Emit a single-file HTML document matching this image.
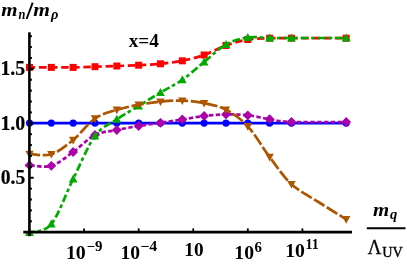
<!DOCTYPE html>
<html><head><meta charset="utf-8"><style>
html,body{margin:0;padding:0;background:#fff;}
body{width:407px;height:264px;position:relative;overflow:hidden;font-family:"Liberation Serif",serif;color:#000;}
</style></head><body>
<svg width="407" height="264" viewBox="0 0 407 264" style="position:absolute;left:0;top:0" font-family="Liberation Serif, serif">
<path d="M29.50 123.10 C33.14 123.10 44.05 123.10 51.33 123.10 C58.61 123.10 65.88 123.10 73.16 123.10 C80.44 123.10 87.71 123.10 94.99 123.10 C102.27 123.10 109.54 123.10 116.82 123.10 C124.10 123.10 131.37 123.10 138.65 123.10 C145.93 123.10 153.20 123.10 160.48 123.10 C167.76 123.10 175.03 123.10 182.31 123.10 C189.59 123.10 196.86 123.10 204.14 123.10 C211.42 123.10 218.69 123.10 225.97 123.10 C233.25 123.10 240.52 123.10 247.80 123.10 C255.08 123.10 262.35 123.10 269.63 123.10 C276.91 123.10 278.70 123.10 291.46 123.10 C304.22 123.10 337.08 123.10 346.20 123.10" fill="none" stroke="#0000ff" stroke-width="2.70"/>
<circle cx="29.50" cy="123.10" r="3.6" fill="#0000ff"/>
<circle cx="51.33" cy="123.10" r="3.6" fill="#0000ff"/>
<circle cx="73.16" cy="123.10" r="3.6" fill="#0000ff"/>
<circle cx="94.99" cy="123.10" r="3.6" fill="#0000ff"/>
<circle cx="116.82" cy="123.10" r="3.6" fill="#0000ff"/>
<circle cx="138.65" cy="123.10" r="3.6" fill="#0000ff"/>
<circle cx="160.48" cy="123.10" r="3.6" fill="#0000ff"/>
<circle cx="182.31" cy="123.10" r="3.6" fill="#0000ff"/>
<circle cx="204.14" cy="123.10" r="3.6" fill="#0000ff"/>
<circle cx="225.97" cy="123.10" r="3.6" fill="#0000ff"/>
<circle cx="247.80" cy="123.10" r="3.6" fill="#0000ff"/>
<circle cx="269.63" cy="123.10" r="3.6" fill="#0000ff"/>
<circle cx="291.46" cy="123.10" r="3.6" fill="#0000ff"/>
<circle cx="346.20" cy="123.10" r="3.6" fill="#0000ff"/>
<path d="M29.50 67.40 C33.14 67.40 44.05 67.40 51.33 67.40 C58.61 67.40 65.88 67.52 73.16 67.40 C80.44 67.28 87.71 66.93 94.99 66.70 C102.27 66.47 109.54 66.25 116.82 66.00 C124.10 65.75 131.37 65.57 138.65 65.20 C145.93 64.83 153.20 64.53 160.48 63.80 C167.76 63.07 175.03 62.27 182.31 60.80 C189.59 59.33 196.86 57.55 204.14 55.00 C211.42 52.45 218.69 48.08 225.97 45.50 C233.25 42.92 240.52 40.72 247.80 39.50 C255.08 38.28 262.35 38.42 269.63 38.20 C276.91 37.98 278.70 38.20 291.46 38.20 C304.22 38.20 337.08 38.20 346.20 38.20" fill="none" stroke="#ff0000" stroke-width="2.70" stroke-dasharray="7.4 3.7" stroke-dashoffset="1.60"/>
<rect x="26.00" y="63.90" width="7.00" height="7.00" fill="#ff0000"/>
<rect x="47.83" y="63.90" width="7.00" height="7.00" fill="#ff0000"/>
<rect x="69.66" y="63.90" width="7.00" height="7.00" fill="#ff0000"/>
<rect x="91.49" y="63.20" width="7.00" height="7.00" fill="#ff0000"/>
<rect x="113.32" y="62.50" width="7.00" height="7.00" fill="#ff0000"/>
<rect x="135.15" y="61.70" width="7.00" height="7.00" fill="#ff0000"/>
<rect x="156.98" y="60.30" width="7.00" height="7.00" fill="#ff0000"/>
<rect x="178.81" y="57.30" width="7.00" height="7.00" fill="#ff0000"/>
<rect x="200.64" y="51.50" width="7.00" height="7.00" fill="#ff0000"/>
<rect x="222.47" y="42.00" width="7.00" height="7.00" fill="#ff0000"/>
<rect x="244.30" y="36.00" width="7.00" height="7.00" fill="#ff0000"/>
<rect x="266.13" y="34.70" width="7.00" height="7.00" fill="#ff0000"/>
<rect x="287.96" y="34.70" width="7.00" height="7.00" fill="#ff0000"/>
<rect x="342.70" y="34.70" width="7.00" height="7.00" fill="#ff0000"/>
<path d="M29.50 165.30 C33.14 165.38 44.05 168.02 51.33 165.80 C58.61 163.58 65.88 157.13 73.16 152.00 C80.44 146.87 87.71 138.67 94.99 135.00 C102.27 131.33 109.54 131.50 116.82 130.00 C124.10 128.50 131.37 127.20 138.65 126.00 C145.93 124.80 153.20 123.88 160.48 122.80 C167.76 121.72 175.03 120.63 182.31 119.50 C189.59 118.37 196.86 116.85 204.14 116.00 C211.42 115.15 218.69 114.52 225.97 114.40 C233.25 114.28 240.52 114.50 247.80 115.30 C255.08 116.10 262.35 118.08 269.63 119.20 C276.91 120.32 278.70 121.53 291.46 122.00 C304.22 122.47 337.08 122.00 346.20 122.00" fill="none" stroke="#aa00aa" stroke-width="2.70" stroke-dasharray="4.4 2.4" stroke-dashoffset="5.80"/>
<path d="M29.50 160.40 L34.40 165.30 L29.50 170.20 L24.60 165.30Z" fill="#aa00aa"/>
<path d="M51.33 160.90 L56.23 165.80 L51.33 170.70 L46.43 165.80Z" fill="#aa00aa"/>
<path d="M73.16 147.10 L78.06 152.00 L73.16 156.90 L68.26 152.00Z" fill="#aa00aa"/>
<path d="M94.99 130.10 L99.89 135.00 L94.99 139.90 L90.09 135.00Z" fill="#aa00aa"/>
<path d="M116.82 125.10 L121.72 130.00 L116.82 134.90 L111.92 130.00Z" fill="#aa00aa"/>
<path d="M138.65 121.10 L143.55 126.00 L138.65 130.90 L133.75 126.00Z" fill="#aa00aa"/>
<path d="M160.48 117.90 L165.38 122.80 L160.48 127.70 L155.58 122.80Z" fill="#aa00aa"/>
<path d="M182.31 114.60 L187.21 119.50 L182.31 124.40 L177.41 119.50Z" fill="#aa00aa"/>
<path d="M204.14 111.10 L209.04 116.00 L204.14 120.90 L199.24 116.00Z" fill="#aa00aa"/>
<path d="M225.97 109.50 L230.87 114.40 L225.97 119.30 L221.07 114.40Z" fill="#aa00aa"/>
<path d="M247.80 110.40 L252.70 115.30 L247.80 120.20 L242.90 115.30Z" fill="#aa00aa"/>
<path d="M269.63 114.30 L274.53 119.20 L269.63 124.10 L264.73 119.20Z" fill="#aa00aa"/>
<path d="M291.46 117.10 L296.36 122.00 L291.46 126.90 L286.56 122.00Z" fill="#aa00aa"/>
<path d="M346.20 117.10 L351.10 122.00 L346.20 126.90 L341.30 122.00Z" fill="#aa00aa"/>
<path d="M29.50 232.40 C33.14 231.00 44.05 232.90 51.33 224.00 C58.61 215.10 65.88 193.67 73.16 179.00 C80.44 164.33 87.71 145.95 94.99 136.00 C102.27 126.05 109.54 124.30 116.82 119.30 C124.10 114.30 131.37 110.47 138.65 106.00 C145.93 101.53 153.20 96.87 160.48 92.50 C167.76 88.13 175.03 84.88 182.31 79.80 C189.59 74.72 196.86 67.88 204.14 62.00 C211.42 56.12 218.69 48.58 225.97 44.50 C233.25 40.42 240.52 38.58 247.80 37.50 C255.08 36.42 262.35 37.92 269.63 38.00 C276.91 38.08 278.70 38.00 291.46 38.00 C304.22 38.00 337.08 38.00 346.20 38.00" fill="none" stroke="#00aa00" stroke-width="2.70" stroke-dasharray="7.8 2.8 3.6 3.0" stroke-dashoffset="2.40"/>
<path d="M29.50 227.80 L33.85 235.90 L25.15 235.90Z" fill="#00aa00"/>
<path d="M51.33 219.40 L55.68 227.50 L46.98 227.50Z" fill="#00aa00"/>
<path d="M73.16 174.40 L77.51 182.50 L68.81 182.50Z" fill="#00aa00"/>
<path d="M94.99 131.40 L99.34 139.50 L90.64 139.50Z" fill="#00aa00"/>
<path d="M116.82 114.70 L121.17 122.80 L112.47 122.80Z" fill="#00aa00"/>
<path d="M138.65 101.40 L143.00 109.50 L134.30 109.50Z" fill="#00aa00"/>
<path d="M160.48 87.90 L164.83 96.00 L156.13 96.00Z" fill="#00aa00"/>
<path d="M182.31 75.20 L186.66 83.30 L177.96 83.30Z" fill="#00aa00"/>
<path d="M204.14 57.40 L208.49 65.50 L199.79 65.50Z" fill="#00aa00"/>
<path d="M225.97 39.90 L230.32 48.00 L221.62 48.00Z" fill="#00aa00"/>
<path d="M247.80 32.90 L252.15 41.00 L243.45 41.00Z" fill="#00aa00"/>
<path d="M269.63 33.40 L273.98 41.50 L265.28 41.50Z" fill="#00aa00"/>
<path d="M291.46 33.40 L295.81 41.50 L287.11 41.50Z" fill="#00aa00"/>
<path d="M346.20 33.40 L350.55 41.50 L341.85 41.50Z" fill="#00aa00"/>
<path d="M29.50 154.00 C33.14 154.03 44.05 156.53 51.33 154.20 C58.61 151.87 65.88 145.95 73.16 140.00 C80.44 134.05 87.71 123.53 94.99 118.50 C102.27 113.47 109.54 112.08 116.82 109.80 C124.10 107.52 131.37 106.15 138.65 104.80 C145.93 103.45 153.20 102.40 160.48 101.70 C167.76 101.00 175.03 100.37 182.31 100.60 C189.59 100.83 196.86 101.58 204.14 103.10 C211.42 104.62 218.69 105.83 225.97 109.70 C233.25 113.57 240.52 118.42 247.80 126.30 C255.08 134.18 262.35 147.35 269.63 157.00 C276.91 166.65 283.31 176.70 291.46 184.20 C299.60 191.70 309.38 196.15 318.50 202.00 C327.62 207.85 341.58 216.42 346.20 219.30" fill="none" stroke="#ad5600" stroke-width="2.70" stroke-dasharray="12.2 2.7" stroke-dashoffset="1.60"/>
<path d="M29.50 158.40 L33.70 150.80 L25.30 150.80Z" fill="#ad5600"/>
<path d="M51.33 158.60 L55.53 151.00 L47.13 151.00Z" fill="#ad5600"/>
<path d="M73.16 144.40 L77.36 136.80 L68.96 136.80Z" fill="#ad5600"/>
<path d="M94.99 122.90 L99.19 115.30 L90.79 115.30Z" fill="#ad5600"/>
<path d="M116.82 114.20 L121.02 106.60 L112.62 106.60Z" fill="#ad5600"/>
<path d="M138.65 109.20 L142.85 101.60 L134.45 101.60Z" fill="#ad5600"/>
<path d="M160.48 106.10 L164.68 98.50 L156.28 98.50Z" fill="#ad5600"/>
<path d="M182.31 105.00 L186.51 97.40 L178.11 97.40Z" fill="#ad5600"/>
<path d="M204.14 107.50 L208.34 99.90 L199.94 99.90Z" fill="#ad5600"/>
<path d="M225.97 114.10 L230.17 106.50 L221.77 106.50Z" fill="#ad5600"/>
<path d="M247.80 130.70 L252.00 123.10 L243.60 123.10Z" fill="#ad5600"/>
<path d="M269.63 161.40 L273.83 153.80 L265.43 153.80Z" fill="#ad5600"/>
<path d="M291.46 188.60 L295.66 181.00 L287.26 181.00Z" fill="#ad5600"/>
<path d="M346.20 223.70 L350.40 216.10 L342.00 216.10Z" fill="#ad5600"/>
<g stroke="#000" fill="none">
<line x1="29.4" y1="32.3" x2="29.4" y2="236.2" stroke-width="2.6"/>
<line x1="23.3" y1="232.1" x2="352" y2="232.1" stroke-width="2.6"/>
<line x1="29.4" y1="221.31" x2="31.90" y2="221.31" stroke-width="2.0"/>
<line x1="29.4" y1="210.42" x2="31.90" y2="210.42" stroke-width="2.0"/>
<line x1="29.4" y1="199.53" x2="31.90" y2="199.53" stroke-width="2.0"/>
<line x1="29.4" y1="188.64" x2="31.90" y2="188.64" stroke-width="2.0"/>
<line x1="29.4" y1="177.75" x2="33.70" y2="177.75" stroke-width="2.0"/>
<line x1="29.4" y1="166.86" x2="31.90" y2="166.86" stroke-width="2.0"/>
<line x1="29.4" y1="155.97" x2="31.90" y2="155.97" stroke-width="2.0"/>
<line x1="29.4" y1="145.08" x2="31.90" y2="145.08" stroke-width="2.0"/>
<line x1="29.4" y1="134.19" x2="31.90" y2="134.19" stroke-width="2.0"/>
<line x1="29.4" y1="123.30" x2="33.70" y2="123.30" stroke-width="2.0"/>
<line x1="29.4" y1="112.41" x2="31.90" y2="112.41" stroke-width="2.0"/>
<line x1="29.4" y1="101.52" x2="31.90" y2="101.52" stroke-width="2.0"/>
<line x1="29.4" y1="90.63" x2="31.90" y2="90.63" stroke-width="2.0"/>
<line x1="29.4" y1="79.74" x2="31.90" y2="79.74" stroke-width="2.0"/>
<line x1="29.4" y1="68.85" x2="33.70" y2="68.85" stroke-width="2.0"/>
<line x1="29.4" y1="57.96" x2="31.90" y2="57.96" stroke-width="2.0"/>
<line x1="29.4" y1="47.07" x2="31.90" y2="47.07" stroke-width="2.0"/>
<line x1="29.4" y1="36.18" x2="31.90" y2="36.18" stroke-width="2.0"/>
<line x1="84.10" y1="232" x2="84.10" y2="228.4" stroke-width="1.8"/>
<line x1="138.68" y1="232" x2="138.68" y2="228.4" stroke-width="1.8"/>
<line x1="193.25" y1="232" x2="193.25" y2="228.4" stroke-width="1.8"/>
<line x1="247.83" y1="232" x2="247.83" y2="228.4" stroke-width="1.8"/>
<line x1="302.40" y1="232" x2="302.40" y2="228.4" stroke-width="1.8"/>
</g>
<line x1="366.8" y1="228.3" x2="405.5" y2="228.3" stroke="#000" stroke-width="2.0"/>
</svg>
<svg width="407" height="264" viewBox="0 0 407 264" style="position:absolute;left:0;top:0;filter:grayscale(1)" font-family="Liberation Serif, serif">
<text x="1.30" y="16.20" font-size="19.00" textLength="16.30" lengthAdjust="spacingAndGlyphs" font-weight="bold" font-style="italic">m</text>
<text x="18.40" y="19.30" font-size="14.20" textLength="6.90" lengthAdjust="spacingAndGlyphs" font-weight="bold" font-style="italic">n</text>
<line x1="32.7" y1="2.7" x2="26.6" y2="19.0" stroke="#000" stroke-width="1.9"/>
<text x="33.30" y="16.20" font-size="19.00" textLength="16.70" lengthAdjust="spacingAndGlyphs" font-weight="bold" font-style="italic">m</text>
<text x="51.00" y="19.30" font-size="14.20" textLength="7.40" lengthAdjust="spacingAndGlyphs" font-weight="bold" font-style="italic">&#961;</text>
<text x="128.70" y="46.70" font-size="18.50" textLength="30.20" lengthAdjust="spacingAndGlyphs" font-weight="bold">x=4</text>
<text x="0.40" y="74.90" font-size="20.40" stroke="#000" stroke-width="0.20" textLength="24.70" lengthAdjust="spacingAndGlyphs" font-weight="bold">1.5</text>
<text x="0.40" y="129.60" font-size="20.40" stroke="#000" stroke-width="0.20" textLength="24.90" lengthAdjust="spacingAndGlyphs" font-weight="bold">1.0</text>
<text x="0.70" y="184.00" font-size="20.40" stroke="#000" stroke-width="0.20" textLength="24.50" lengthAdjust="spacingAndGlyphs" font-weight="bold">0.5</text>
<text x="65.90" y="259.40" font-size="19.40" textLength="19.90" lengthAdjust="spacingAndGlyphs" font-weight="bold">10</text>
<text x="86.50" y="251.30" font-size="14.30" textLength="16.00" lengthAdjust="spacingAndGlyphs" font-weight="bold">&#8722;9</text>
<text x="120.40" y="259.40" font-size="19.40" textLength="19.60" lengthAdjust="spacingAndGlyphs" font-weight="bold">10</text>
<text x="140.30" y="251.30" font-size="14.30" textLength="17.00" lengthAdjust="spacingAndGlyphs" font-weight="bold">&#8722;4</text>
<text x="184.30" y="256.30" font-size="19.40" textLength="19.30" lengthAdjust="spacingAndGlyphs" font-weight="bold">10</text>
<text x="234.30" y="259.30" font-size="19.40" textLength="19.70" lengthAdjust="spacingAndGlyphs" font-weight="bold">10</text>
<text x="254.50" y="251.80" font-size="14.30" textLength="7.40" lengthAdjust="spacingAndGlyphs" font-weight="bold">6</text>
<text x="285.20" y="256.60" font-size="19.40" textLength="19.70" lengthAdjust="spacingAndGlyphs" font-weight="bold">10</text>
<text x="305.60" y="248.70" font-size="14.30" textLength="13.30" lengthAdjust="spacingAndGlyphs" font-weight="bold">11</text>
<text x="373.00" y="216.10" font-size="19.00" textLength="16.20" lengthAdjust="spacingAndGlyphs" font-weight="bold" font-style="italic">m</text>
<text x="390.00" y="219.30" font-size="14.50" textLength="7.30" lengthAdjust="spacingAndGlyphs" font-weight="bold" font-style="italic">q</text>
<text x="367.80" y="254.00" font-size="21.00" stroke="#000" stroke-width="0.30" textLength="13.70" lengthAdjust="spacingAndGlyphs">&#923;</text>
<text x="382.30" y="256.60" font-size="14.30" stroke="#000" stroke-width="0.35" textLength="20.60" lengthAdjust="spacingAndGlyphs">UV</text>
</svg>
</body></html>
